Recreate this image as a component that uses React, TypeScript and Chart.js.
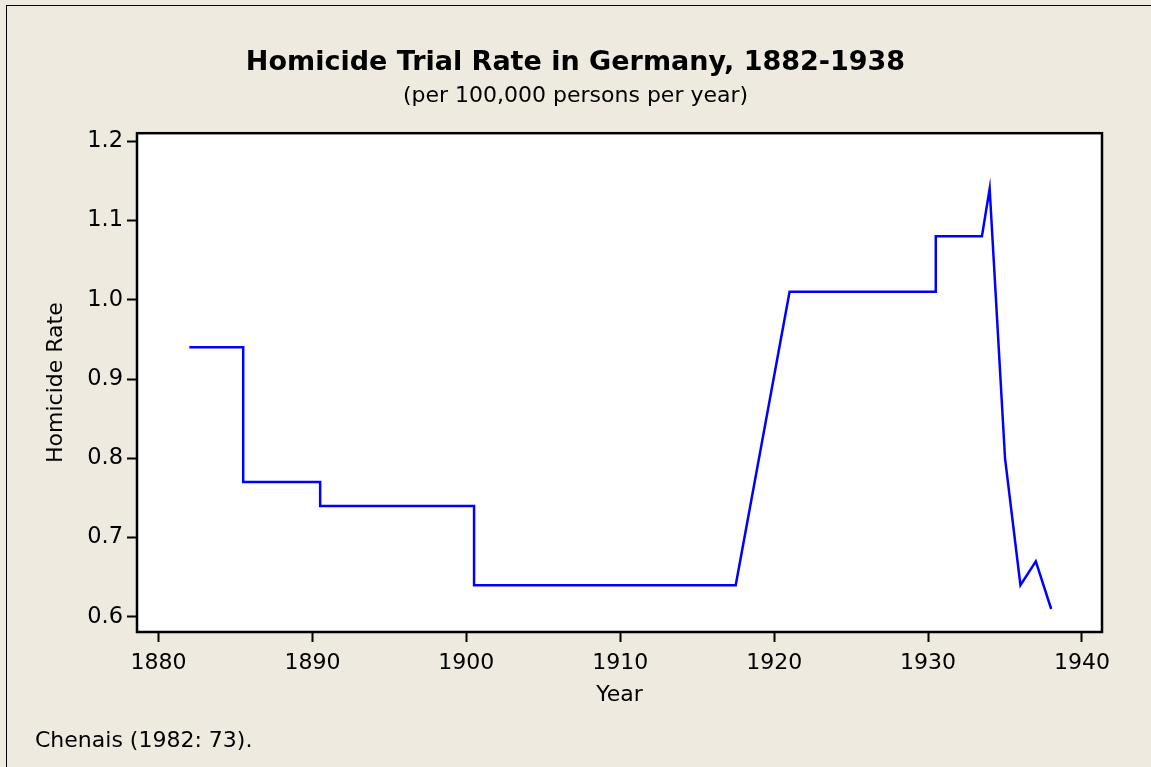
import React, { useEffect, useRef } from "react";
import { Chart, registerables } from "chart.js";

Chart.register(...registerables);

// ---- Data ----
const years = [1882, 1885.5, 1885.5, 1890.5, 1890.5, 1900.5, 1900.5, 1917.5, 1921, 1930.5, 1930.5, 1933.5, 1934, 1935, 1936, 1937, 1938];
const rates = [0.94, 0.94, 0.77, 0.77, 0.74, 0.74, 0.64, 0.64, 1.01, 1.01, 1.08, 1.08, 1.14, 0.80, 0.64, 0.67, 0.61];

const titleText = "Homicide Trial Rate in Germany, 1882-1938";
const subtitleText = "(per 100,000 persons per year)";
const xAxisLabel = "Year";
const yAxisLabel = "Homicide Rate";
const sourceNote = "Chenais (1982: 73).";

const W = 1151;
const H = 767;
const BG = "#EEEAE0";
const FONT = "'DejaVu Sans', Verdana, sans-serif";

export default function App() {
  const ref = useRef<HTMLCanvasElement | null>(null);

  useEffect(() => {
    if (!ref.current) return;
    const framePlugin = {
      id: "frame",
      beforeDraw(chart: any) {
        const { ctx, chartArea: a } = chart;
        ctx.save();
        ctx.fillStyle = BG;
        ctx.fillRect(0, 0, chart.width, chart.height);
        ctx.fillStyle = "#000";
        ctx.fillRect(6, 5, 1, chart.height);
        ctx.fillRect(6, 5, chart.width, 1);
        ctx.fillStyle = "#fff";
        ctx.fillRect(a.left, a.top, a.right - a.left, a.bottom - a.top);
        ctx.restore();
      },
      afterDraw(chart: any) {
        const { ctx, chartArea: a } = chart;
        ctx.save();
        ctx.strokeStyle = "#000";
        ctx.lineWidth = 2.5;
        ctx.strokeRect(a.left, a.top, a.right - a.left, a.bottom - a.top);
        ctx.restore();
      },
    };

    const chart = new Chart(ref.current, {
      type: "line",
      data: {
        datasets: [
          {
            data: years.map((x, i) => ({ x, y: rates[i] })),
            borderColor: "#0000FF",
            borderWidth: 2.5,
            borderJoinStyle: "miter",
            pointRadius: 0,
            tension: 0,
            fill: false,
          },
        ],
      },
      options: {
        animation: false,
        responsive: false,
        layout: { padding: 0 },
        plugins: {
          legend: { display: false },
          tooltip: { enabled: false },
          title: {
            display: true,
            text: titleText,
            color: "#000",
            font: { family: FONT, size: 27, weight: "bold", lineHeight: 1.2 },
            padding: { top: 46.6, bottom: 0 },
          },
          subtitle: {
            display: true,
            text: subtitleText,
            color: "#000",
            font: { family: FONT, size: 22, lineHeight: 1.2 },
            padding: { top: 4.0, bottom: 23.8 },
          },
        },
        scales: {
          x: {
            type: "linear",
            position: "bottom",
            min: 1878.6,
            max: 1941.3,
            ticks: {
              stepSize: 10,
              includeBounds: false,
              autoSkip: false,
              maxRotation: 0,
              color: "#000",
              padding: 8,
              font: { family: FONT, size: 22 },
              callback: (v: any) => String(v),
            },
            grid: { display: true, drawOnChartArea: false, drawTicks: true, tickLength: 10, tickWidth: 2, tickColor: "#000" },
            border: { display: false },
            title: {
              display: true,
              text: xAxisLabel,
              color: "#000",
              font: { family: FONT, size: 22, lineHeight: 1.2 },
              padding: { top: 0, bottom: 58.3 },
            },
            afterFit: (s: any) => {
              s.height = 135;
            },
          },
          y: {
            type: "linear",
            position: "left",
            min: 0.581,
            max: 1.21,
            ticks: {
              stepSize: 0.1,
              includeBounds: false,
              color: "#000",
              padding: 4,
              font: { family: FONT, size: 22.5 },
              callback: (v: any) => Number(v).toFixed(1),
            },
            grid: { display: true, drawOnChartArea: false, drawTicks: true, tickLength: 10, tickWidth: 2, tickColor: "#000" },
            border: { display: false },
            title: {
              display: true,
              text: yAxisLabel,
              color: "#000",
              font: { family: FONT, size: 22, lineHeight: 1.2 },
              padding: { top: 43.3, bottom: 0 },
            },
            afterFit: (s: any) => {
              s.width = 137;
            },
          },
          yr: {
            type: "linear",
            position: "right",
            display: true,
            grid: { display: false },
            ticks: { display: false },
            border: { display: false },
            afterFit: (s: any) => {
              s.width = 49;
            },
          },
        },
      } as any,
      plugins: [framePlugin],
    });
    return () => chart.destroy();
  }, []);

  return (
    <div style={{ position: "fixed", left: 0, top: 0, width: W, height: H, background: BG, overflow: "hidden" }}>
      <canvas ref={ref} width={W} height={H} style={{ position: "absolute", left: 0, top: 0, width: W, height: H }} />
      <div
        style={{
          position: "absolute",
          left: 35,
          top: 727.4,
          fontFamily: FONT,
          fontSize: 22,
          lineHeight: "26px",
          color: "#000",
          whiteSpace: "nowrap",
        }}
      >
        {sourceNote}
      </div>
    </div>
  );
}
